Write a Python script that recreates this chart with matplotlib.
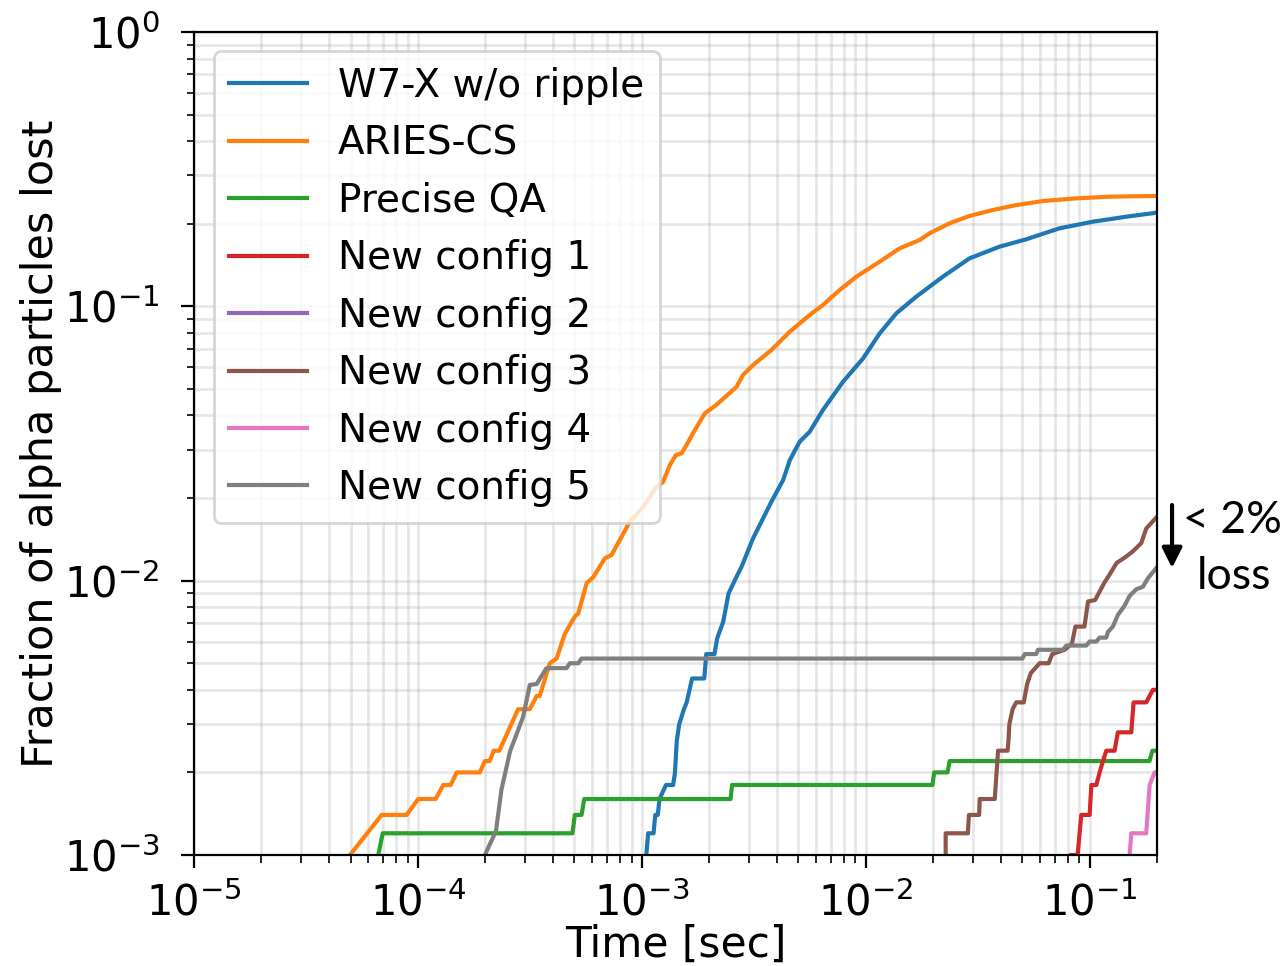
"""
Alpha particle loss fraction vs time for several stellarator configurations.
Log-log cumulative loss curves, read off the reference figure.
"""

import matplotlib
matplotlib.use("Agg")
import matplotlib.pyplot as plt
from matplotlib.patches import FancyArrowPatch

# --- data: (time [s], cumulative fraction lost) ---
labels = ["W7-X w/o ripple", "ARIES-CS", "Precise QA", "New config 1",
          "New config 2", "New config 3", "New config 4", "New config 5"]

t_w7x = [1.047e-3, 1.067e-3, 1.128e-3, 1.148e-3, 1.178e-3, 1.199e-3, 1.282e-3,
         1.380e-3, 1.406e-3, 1.432e-3, 1.469e-3, 1.542e-3, 1.586e-3, 1.677e-3,
         1.90e-3, 1.94e-3, 2.11e-3, 2.17e-3, 2.31e-3, 2.44e-3, 2.65e-3, 2.79e-3,
         3.14e-3, 3.54e-3, 3.79e-3, 4.28e-3, 4.58e-3, 5.07e-3, 5.62e-3, 6.44e-3,
         7.92e-3, 9.73e-3, 0.01155, 0.0137, 0.0168, 0.0221, 0.0291, 0.0396,
         0.0521, 0.0734, 0.1035, 0.1459, 0.2]
f_w7x = [1.0e-3, 1.2e-3, 1.2e-3, 1.4e-3, 1.4e-3, 1.6e-3, 1.8e-3, 1.8e-3,
         2.0e-3, 2.6e-3, 3.0e-3, 3.4e-3, 3.6e-3, 4.4e-3, 4.4e-3, 5.4e-3,
         5.4e-3, 6.16e-3, 7.09e-3, 8.99e-3, 0.01034, 0.01125, 0.01427, 0.01735,
         0.0194, 0.0233, 0.0275, 0.0321, 0.0349, 0.0419, 0.0531, 0.0646,
         0.0797, 0.0943, 0.1084, 0.1282, 0.1496, 0.1650, 0.1755, 0.1925,
         0.2035, 0.2122, 0.2195]

t_aries = [4.97e-5, 6.89e-5, 8.90e-5, 1.003e-4, 1.20e-4, 1.297e-4, 1.40e-4,
           1.49e-4, 1.89e-4, 1.99e-4, 2.09e-4, 2.18e-4, 2.31e-4, 2.80e-4,
           3.16e-4, 3.39e-4, 3.50e-4, 3.88e-4, 4.16e-4, 4.53e-4, 5.02e-4,
           5.20e-4, 5.67e-4, 6.07e-4, 6.38e-4, 6.84e-4, 7.32e-4, 7.97e-4,
           8.84e-4, 1.014e-3, 1.164e-3, 1.245e-3, 1.334e-3, 1.419e-3, 1.504e-3,
           1.583e-3, 1.694e-3, 1.91e-3, 2.15e-3, 2.65e-3, 2.83e-3, 3.14e-3,
           3.79e-3, 4.06e-3, 4.58e-3, 5.62e-3, 6.44e-3, 7.65e-3, 9.08e-3,
           0.01155, 0.01419, 0.01742, 0.0193, 0.0237, 0.0291, 0.0370, 0.0471,
           0.0619, 0.0873, 0.1228, 0.2]
f_aries = [1.0e-3, 1.4e-3, 1.4e-3, 1.6e-3, 1.6e-3, 1.8e-3, 1.8e-3, 2.0e-3,
           2.0e-3, 2.2e-3, 2.2e-3, 2.4e-3, 2.4e-3, 3.4e-3, 3.4e-3, 3.8e-3,
           3.8e-3, 5.0e-3, 5.2e-3, 6.4e-3, 7.4e-3, 7.6e-3, 9.8e-3, 0.0103,
           0.0110, 0.01207, 0.0124, 0.01406, 0.0164, 0.0186, 0.0220, 0.0229,
           0.0264, 0.0287, 0.0291, 0.0312, 0.0345, 0.0407, 0.0437, 0.0509,
           0.0562, 0.0611, 0.0693, 0.0733, 0.0808, 0.0930, 0.1011, 0.1147,
           0.1282, 0.1455, 0.1627, 0.1745, 0.1846, 0.2008, 0.2135, 0.2245,
           0.234, 0.242, 0.2475, 0.2510, 0.2525]

t_pqa = [6.65e-5, 6.96e-5, 4.90e-4, 5.02e-4, 5.38e-4, 5.53e-4, 2.49e-3,
         2.53e-3, 0.01986, 0.02022, 0.02317, 0.0237, 0.1851, 0.1907, 0.2]
f_pqa = [1.0e-3, 1.2e-3, 1.2e-3, 1.4e-3, 1.4e-3, 1.6e-3, 1.6e-3, 1.8e-3,
         1.8e-3, 2.0e-3, 2.0e-3, 2.2e-3, 2.2e-3, 2.4e-3, 2.4e-3]

t_new1 = [0.0828, 0.0884, 0.0918, 0.1, 0.1018, 0.1072, 0.1108, 0.1147, 0.1187,
          0.1293, 0.1337, 0.1535, 0.1572, 0.179, 0.1854, 0.1917, 0.2]
f_new1 = [1.0e-3, 1.0e-3, 1.4e-3, 1.4e-3, 1.8e-3, 1.8e-3, 2.0e-3, 2.2e-3,
          2.4e-3, 2.4e-3, 2.8e-3, 2.8e-3, 3.6e-3, 3.6e-3, 3.8e-3, 4.0e-3, 4.0e-3]

# config 2 lost no particles in the simulated window
t_new2 = []
f_new2 = []

t_new3 = [0.02275, 0.02275, 0.0286, 0.0289, 0.0321, 0.0323, 0.0377, 0.0390,
          0.0430, 0.0434, 0.0438, 0.0453, 0.0470, 0.0508, 0.0526, 0.0546,
          0.0598, 0.0656, 0.0681, 0.0774, 0.0834, 0.0864, 0.0948, 0.0984,
          0.1058, 0.1161, 0.1226, 0.1320, 0.1448, 0.1561, 0.1701, 0.1791, 0.2]
f_new3 = [1.0e-3, 1.2e-3, 1.2e-3, 1.4e-3, 1.4e-3, 1.6e-3, 1.6e-3, 2.4e-3,
          2.4e-3, 2.6e-3, 3.0e-3, 3.4e-3, 3.6e-3, 3.6e-3, 4.2e-3, 4.6e-3,
          5.0e-3, 5.0e-3, 5.4e-3, 5.6e-3, 5.9e-3, 6.8e-3, 6.8e-3, 8.4e-3,
          8.5e-3, 9.8e-3, 0.0105, 0.0116, 0.0122, 0.0128, 0.0137, 0.0155, 0.0171]

t_new4 = [0.1509, 0.1535, 0.179, 0.1854, 0.195, 0.2]
f_new4 = [1.0e-3, 1.2e-3, 1.2e-3, 1.8e-3, 2.0e-3, 2.0e-3]

t_new5 = [1.99e-4, 2.23e-4, 2.36e-4, 2.58e-4, 2.95e-4, 3.16e-4, 3.39e-4,
          3.75e-4, 4.61e-4, 4.77e-4, 5.20e-4, 5.38e-4, 0.0501, 0.0513, 0.0578,
          0.0588, 0.0760, 0.0787, 0.0966, 0.1, 0.1072, 0.1108, 0.1187, 0.1207,
          0.127, 0.1337, 0.1432, 0.1509, 0.1616, 0.173, 0.182, 0.2]
f_new5 = [1.0e-3, 1.22e-3, 1.73e-3, 2.39e-3, 3.19e-3, 4.17e-3, 4.2e-3,
          4.8e-3, 4.8e-3, 5.0e-3, 5.0e-3, 5.2e-3, 5.2e-3, 5.4e-3, 5.4e-3,
          5.6e-3, 5.6e-3, 5.8e-3, 5.8e-3, 6.0e-3, 6.0e-3, 6.2e-3, 6.2e-3,
          6.5e-3, 6.8e-3, 7.5e-3, 8.1e-3, 8.8e-3, 9.3e-3, 9.5e-3, 0.0102, 0.0112]

times = [t_w7x, t_aries, t_pqa, t_new1, t_new2, t_new3, t_new4, t_new5]
fracs = [f_w7x, f_aries, f_pqa, f_new1, f_new2, f_new3, f_new4, f_new5]


def main() -> None:
    plt.rcParams["font.size"] = 14
    # longer ticks / wider pad than the defaults
    for ax_name in ("xtick", "ytick"):
        plt.rcParams[f"{ax_name}.labelsize"] = 15
        plt.rcParams[f"{ax_name}.major.size"] = 4.8
        plt.rcParams[f"{ax_name}.minor.size"] = 2.7
    plt.rcParams["xtick.major.pad"] = 5.0
    plt.rcParams["ytick.major.pad"] = 7.5

    fig = plt.figure(figsize=(6.43, 4.83), dpi=200)
    ax = fig.add_axes([0.1509, 0.1149, 0.7488, 0.852])

    for t, f, lab in zip(times, fracs, labels):
        ax.plot(t, f, label=lab)

    ax.set_xscale("log")
    ax.set_yscale("log")
    ax.set_xlim(1e-5, 0.2)
    ax.set_ylim(1e-3, 1)
    ax.grid(which="both", alpha=0.3, lw=1)
    ax.set_xlabel("Time [sec]", fontsize=15.2)
    ax.set_ylabel("Fraction of alpha particles lost", fontsize=15.5)
    ax.xaxis.set_label_coords(0.5, -0.0835)
    ax.yaxis.set_label_coords(-0.137, 0.5)
    ax.legend(loc="upper left")

    # "< 2% loss" note to the right of the axes
    fig.add_artist(FancyArrowPatch(
        (0.9114, 0.4772), (0.9114, 0.412), transform=fig.transFigure,
        arrowstyle="-|>,head_length=0.6,head_width=0.3", mutation_scale=10,
        shrinkA=0, shrinkB=0, lw=1.5, color="k"))
    fig.text(0.9585, 0.4607, "< 2%", ha="center", va="center",
             family="Lato", fontsize=16)
    fig.text(0.9595, 0.4035, "loss", ha="center", va="center",
             family="Lato", fontsize=16)

    fig.savefig("out.png", dpi=200)


if __name__ == "__main__":
    main()
